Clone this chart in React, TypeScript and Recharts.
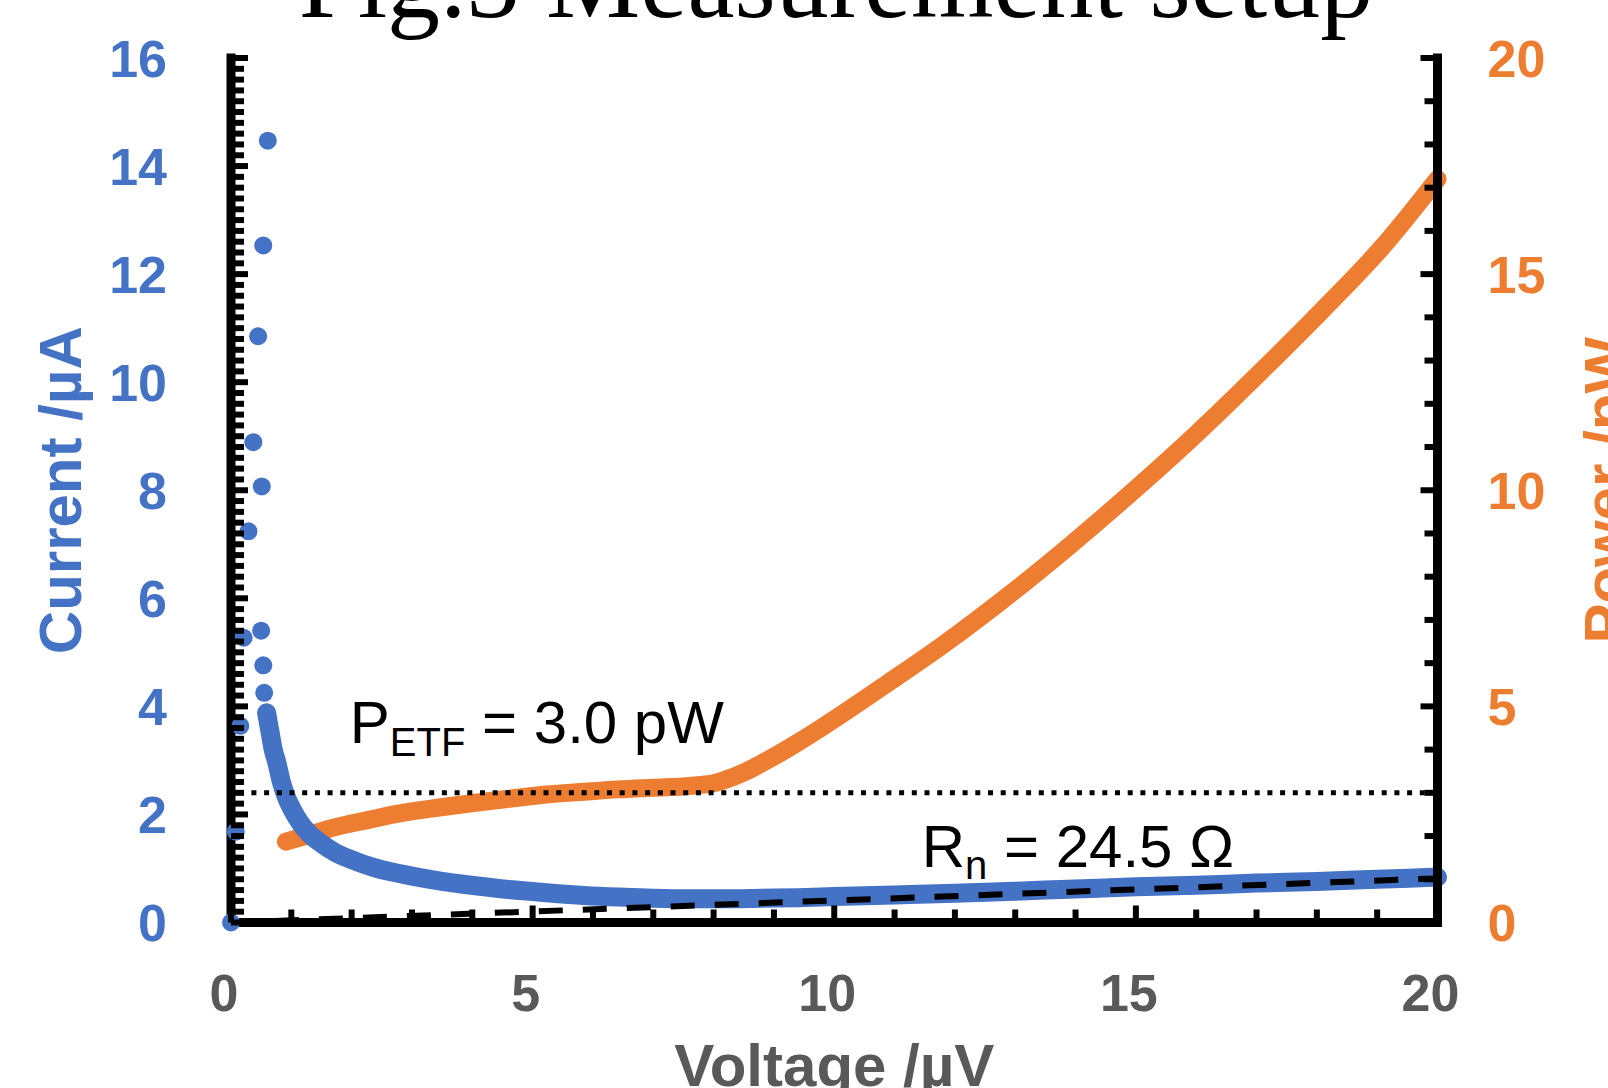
import React from 'react';
import { ComposedChart, Line, Scatter, XAxis, YAxis, ReferenceLine, ReferenceDot, Label } from 'recharts';

const BLUE = '#4472C4';
const ORANGE = '#ED7D31';
const GREY = '#595959';
const FONT = '"Liberation Sans", Arial, sans-serif';

// scattered points around the superconducting transition (V in µV, I in µA)
const dotV = [0, 0.08, 0.155, 0.21, 0.29, 0.37, 0.45, 0.535, 0.61, 0.51, 0.5, 0.535, 0.55];
const dotI = [0, 1.68, 3.64, 5.27, 7.24, 8.89, 10.85, 12.53, 14.47, 8.07, 5.4, 4.76, 4.25];

// dense I-V branch
const ivV = [0.59, 0.64, 0.7, 0.76, 0.83, 0.91, 1.02, 1.15, 1.3, 1.5, 1.72, 1.98, 2.36, 2.86, 3.4, 4.05, 4.6, 5.23, 5.85, 6.42, 7.0, 7.6, 8.2, 8.8, 9.4, 10, 11, 12, 13, 14, 15, 16, 17, 18, 19, 20];
const ivI = [3.88, 3.57, 3.2, 2.96, 2.62, 2.34, 2.08, 1.84, 1.64, 1.46, 1.3, 1.17, 1.02, 0.89, 0.78, 0.68, 0.61, 0.55, 0.5, 0.47, 0.45, 0.44, 0.44, 0.45, 0.46, 0.48, 0.51, 0.54, 0.58, 0.62, 0.66, 0.69, 0.73, 0.76, 0.8, 0.84];

// power (pW)
const pwV = [0.91, 1.3, 1.68, 2.3, 2.86, 3.45, 4.05, 4.65, 5.23, 5.8, 6.42, 7.0, 7.6, 8.0, 8.19, 8.5, 8.78, 9.08, 9.37, 9.78, 10.9, 11.8, 12.9, 13.93, 14.97, 16.0, 17.04, 18.08, 19.1, 20.0];
const pwP = [1.87, 2.03, 2.19, 2.38, 2.54, 2.66, 2.77, 2.87, 2.96, 3.02, 3.08, 3.12, 3.16, 3.22, 3.3, 3.47, 3.67, 3.9, 4.14, 4.5, 5.55, 6.42, 7.58, 8.75, 10.0, 11.3, 12.7, 14.15, 15.65, 17.2];

// normal resistance fit R_n = 24.5 ohm
const fitV = [0, 20];
const fitI = [0, 0.816];
const P_ETF = 3.0;

const xMajor = [0, 5, 10, 15, 20];
const leftMajor = [0, 2, 4, 6, 8, 10, 12, 14, 16];
const rightMajor = [0, 5, 10, 15, 20];
const xTicks = Array.from({ length: 21 }, (_, k) => k);
const leftTicks = Array.from({ length: 81 }, (_, k) => +(k * 0.2).toFixed(1));
const rightTicks = Array.from({ length: 21 }, (_, k) => k);

const dotData = dotV.map((v, k) => ({ v, i: dotI[k] }));
const ivData = ivV.map((v, k) => ({ v, i: ivI[k] }));
const pwData = pwV.map((v, k) => ({ v, p: pwP[k] }));
const fitData = fitV.map((v, k) => ({ v, i: fitI[k] }));

const frame = { stroke: '#000', strokeWidth: 9, strokeLinecap: 'square' as const };

const LeftTick = (p: any) => {
  const v = p.payload.value;
  const major = leftMajor.includes(v);
  return (
    <g>
      <line x1={p.x} x2={p.x + (major ? 17 : 13)} y1={p.y} y2={p.y} stroke="#000" strokeWidth={6} />
      {major && (
        <text x={p.x - 64} y={p.y} dy="0.36em" textAnchor="end" fill={BLUE} fontSize={52} fontWeight="bold" fontFamily={FONT}>{v}</text>
      )}
    </g>
  );
};

const RightTick = (p: any) => {
  const v = p.payload.value;
  const major = rightMajor.includes(v);
  return (
    <g>
      <line x1={p.x} x2={p.x - (major ? 17 : 13)} y1={p.y} y2={p.y} stroke="#000" strokeWidth={6} />
      {major && (
        <text x={p.x + 50} y={p.y} dy="0.36em" textAnchor="start" fill={ORANGE} fontSize={52} fontWeight="bold" fontFamily={FONT}>{v}</text>
      )}
    </g>
  );
};

const BottomTick = (p: any) => {
  const v = p.payload.value;
  const major = xMajor.includes(v);
  return (
    <g>
      <line x1={p.x} x2={p.x} y1={p.y} y2={p.y - (major ? 17 : 13)} stroke="#000" strokeWidth={6} />
      {major && (
        <text x={p.x - 7} y={p.y + 70} dy="0.36em" textAnchor="middle" fill={GREY} fontSize={52} fontWeight="bold" fontFamily={FONT}>{v}</text>
      )}
    </g>
  );
};

export default function App() {
  return (
    <div style={{ position: 'absolute', left: 0, top: 0, width: 1608, height: 1088, background: '#fff', overflow: 'hidden' }}>
      <ComposedChart width={1608} height={1088} margin={{ top: 58, right: 0, bottom: 0, left: 0 }}>
        <XAxis
          dataKey="v" type="number" domain={[0, 20]} ticks={xTicks} interval={0}
          height={165.5} tickSize={0} tickMargin={0} tickLine={false} axisLine={frame} tick={BottomTick}
        >
          <Label
            content={({ viewBox }: any) => (
              <text x={viewBox.x + viewBox.width / 2} y={1086} textAnchor="middle" fill={GREY} fontSize={60} fontWeight="bold" fontFamily={FONT}>
                Voltage /µV
              </text>
            )}
          />
        </XAxis>
        <XAxis xAxisId="top" orientation="top" dataKey="v" type="number" domain={[0, 20]} height={0} tick={false} tickLine={false} axisLine={frame} />
        <YAxis
          yAxisId="left" type="number" domain={[0, 16]} ticks={leftTicks} interval={0}
          width={231} tickSize={0} tickMargin={0} tickLine={false} axisLine={frame} tick={LeftTick}
        >
          <Label
            content={({ viewBox }: any) => {
              const cx = viewBox.x + 81;
              const cy = viewBox.y + viewBox.height / 2;
              return (
                <text x={cx} y={cy} transform={`rotate(-90 ${cx} ${cy})`} textAnchor="middle" fill={BLUE} fontSize={60} fontWeight="bold" fontFamily={FONT}>
                  Current /µA
                </text>
              );
            }}
          />
        </YAxis>
        <YAxis
          yAxisId="right" orientation="right" type="number" domain={[0, 20]} ticks={rightTicks} interval={0}
          width={170.5} tickSize={0} tickMargin={0} tickLine={false} axisLine={frame} tick={RightTick}
        >
          <Label
            content={({ viewBox }: any) => {
              const cx = viewBox.x + 188;
              const cy = viewBox.y + viewBox.height / 2;
              return (
                <text x={cx} y={cy} transform={`rotate(-90 ${cx} ${cy})`} textAnchor="middle" fill={ORANGE} fontSize={60} fontWeight="bold" fontFamily={FONT}>
                  Power /pW
                </text>
              );
            }}
          />
        </YAxis>

        <Line
          yAxisId="right" data={pwData} dataKey="p" type="monotone" stroke={ORANGE} strokeWidth={18}
          strokeLinecap="round" strokeLinejoin="round" dot={false} activeDot={false} isAnimationActive={false}
        />
        <Line
          yAxisId="left" data={ivData} dataKey="i" type="monotone" stroke={BLUE} strokeWidth={19}
          strokeLinecap="round" strokeLinejoin="round" dot={false} activeDot={false} isAnimationActive={false}
        />
        <Scatter
          yAxisId="left" data={dotData} dataKey="i" fill={BLUE} isAnimationActive={false}
          shape={(p: any) => <circle cx={p.cx} cy={p.cy} r={9} fill={BLUE} />}
        />
        <Line
          yAxisId="left" data={fitData} dataKey="i" type="linear" stroke="#000" strokeWidth={6}
          strokeDasharray="24 20" dot={false} activeDot={false} isAnimationActive={false}
        />
        <ReferenceLine yAxisId="right" y={P_ETF} stroke="#000" strokeWidth={5} strokeDasharray="5 7.7" />

        <ReferenceDot
          yAxisId="left" x={1.97} y={3.33} r={0}
          shape={(p: any) => (
            <text x={p.cx} y={p.cy} fontSize={60} fontFamily={FONT} fill="#000">
              P<tspan fontSize={40} dy={13}>ETF</tspan>
              <tspan dy={-13}> = 3.0 pW</tspan>
            </text>
          )}
        />
        <ReferenceDot
          yAxisId="left" x={11.45} y={1.036} r={0}
          shape={(p: any) => (
            <text x={p.cx} y={p.cy} fontSize={60} fontFamily={FONT} fill="#000">
              R<tspan fontSize={40} dy={12}>n</tspan>
              <tspan dy={-12}> = 24.5 Ω</tspan>
            </text>
          )}
        />
      </ComposedChart>
      <svg width={1608} height={60} style={{ position: 'absolute', left: 0, top: 0, pointerEvents: 'none' }}>
        <text x={836} y={17} textAnchor="middle" fontSize={106} fontFamily='"Liberation Serif", "DejaVu Serif", serif' fill="#000">
          Fig.3 Measurement setup
        </text>
      </svg>
    </div>
  );
}
